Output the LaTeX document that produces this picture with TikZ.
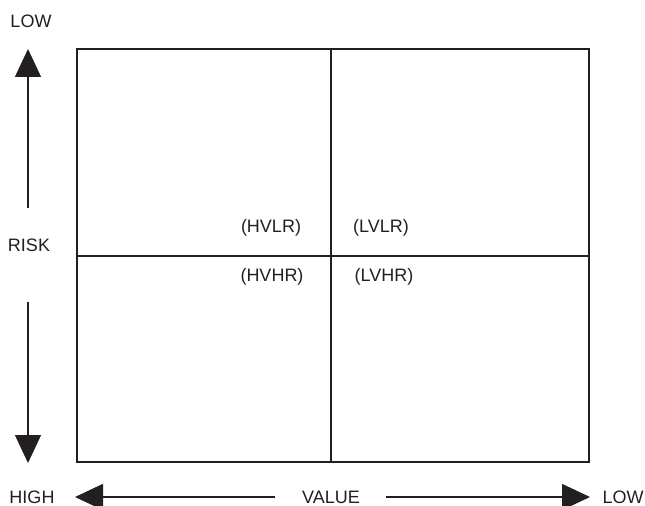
\documentclass[tikz,border=0pt]{standalone}
\usepackage{fontspec}
\setmainfont{Liberation Sans}
\usetikzlibrary{arrows.meta, positioning}
\definecolor{gridblack}{RGB}{35, 31, 32}

\tikzset{
	lbl/.style={text=gridblack, font=\fontsize{13.5}{16}\selectfont, inner sep=0pt},
	axisarrow/.style={draw=gridblack, line width=1pt, -{Triangle[length=21pt,width=19.5pt]}},
	gridline/.style={draw=gridblack, line width=1pt}
}

\begin{document}
\begin{tikzpicture}[x=0.75pt, y=-0.75pt]
	\useasboundingbox (0,0) rectangle (645,506);
	% matrix frame and quadrant lines
	\draw[gridline] (77,49) rectangle (589,462);
	\draw[gridline] (331,49) -- (331,462);
	\draw[gridline] (77,256) -- (589,256);
	% quadrant labels
	\node[lbl] (hvlr) at (271,228) {(HVLR)};
	\node[lbl] (lvlr) at (381,228) {(LVLR)};
	\node[lbl] (hvhr) at (272,277) {(HVHR)};
	\node[lbl] (lvhr) at (384,277) {(LVHR)};
	% risk axis
	\node[lbl] (risklow) at (31,21) {LOW};
	\node[lbl] (risk) at (29,245) {RISK};
	\node[lbl] (riskhigh) at (32,497) {HIGH};
	\coordinate (upfrom) at (28,208);
	\coordinate (upto) at (28,49);
	\coordinate (downfrom) at (28,302);
	\coordinate (downto) at (28,463);
	\draw[axisarrow] (upfrom) -- (upto);
	\draw[axisarrow] (downfrom) -- (downto);
	% value axis
	\node[lbl] (value) at (331,497) {VALUE};
	\node[lbl] (valuelow) at (623,497) {LOW};
	\coordinate (leftfrom) at (275,497);
	\coordinate (leftto) at (75,497);
	\coordinate (rightfrom) at (386,497);
	\coordinate (rightto) at (590,497);
	\draw[axisarrow] (leftfrom) -- (leftto);
	\draw[axisarrow] (rightfrom) -- (rightto);
\end{tikzpicture}
\end{document}
